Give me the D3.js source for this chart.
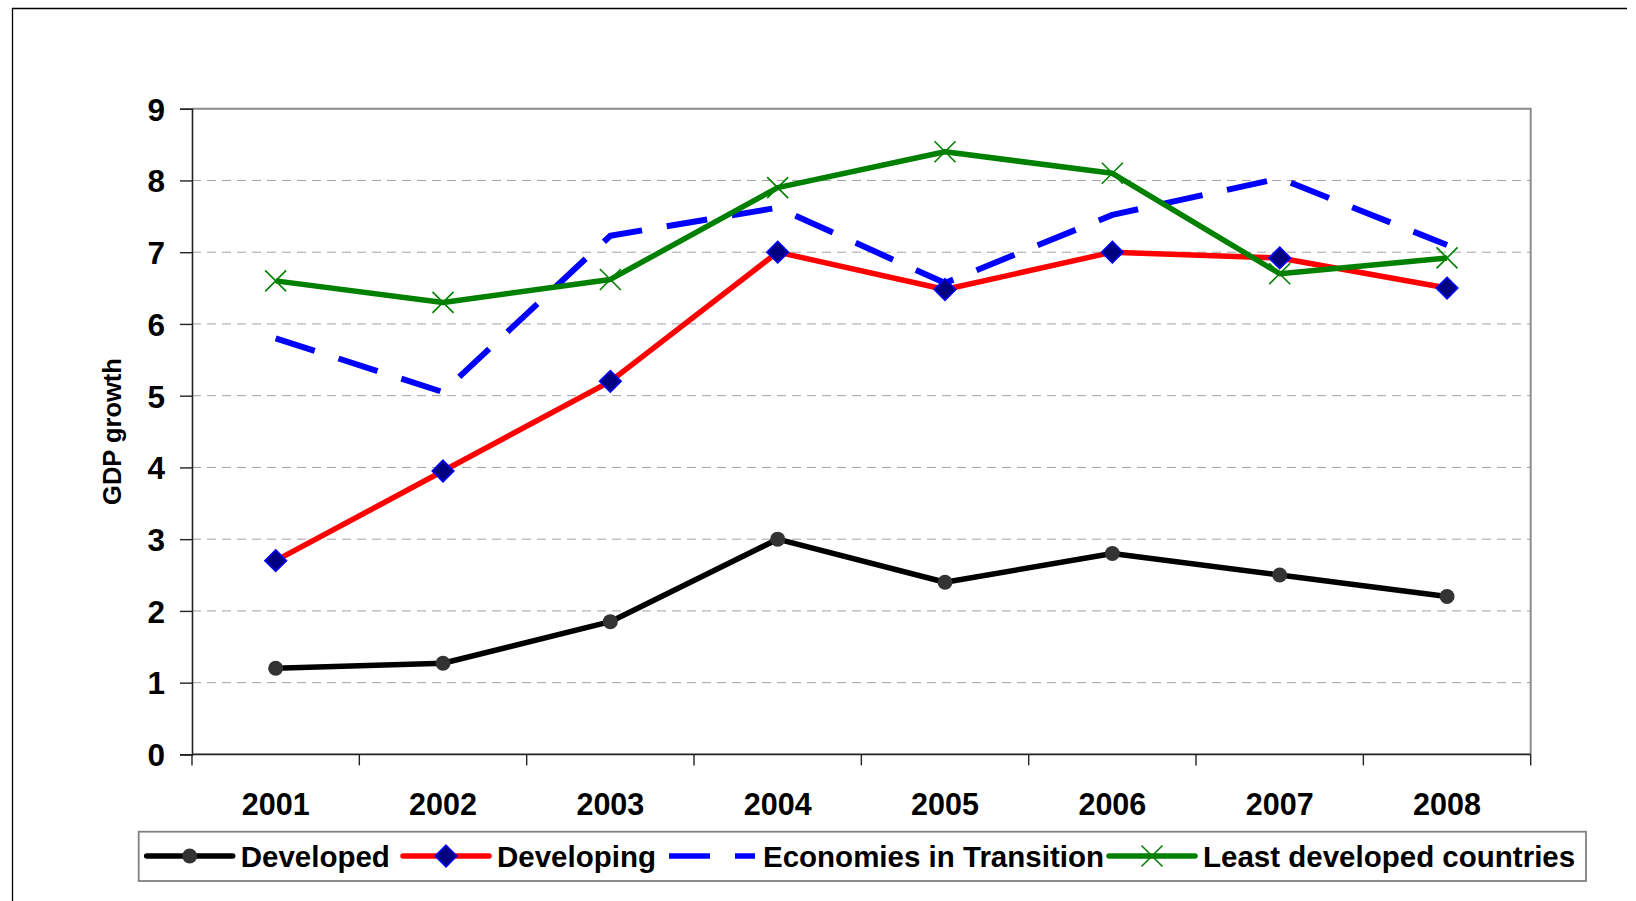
<!DOCTYPE html>
<html>
<head>
<meta charset="utf-8">
<script src="https://cdn.jsdelivr.net/npm/d3@7"></script>
<style>
  html, body { margin: 0; padding: 0; background: #fff; }
  svg { display: block; }
  text { font-family: "Liberation Sans", Arial, sans-serif; font-weight: bold; fill: #000; }
</style>
</head>
<body>
<script>
// ---- data ----
const years = ["2001", "2002", "2003", "2004", "2005", "2006", "2007", "2008"];
const developed  = [1.2, 1.27, 1.85, 3.0, 2.4, 2.8, 2.5, 2.2];
const developing = [2.7, 3.95, 5.2, 7.0, 6.48, 7.0, 6.92, 6.5];
const transition = [5.8, 5.05, 7.23, 7.62, 6.57, 7.52, 8.03, 7.1];
const leastDev   = [6.6, 6.3, 6.62, 7.9, 8.4, 8.1, 6.7, 6.92];
const seriesNames = ["Developed", "Developing", "Economies in Transition", "Least developed countries"];
const yTicks = [0, 1, 2, 3, 4, 5, 6, 7, 8, 9];
const yTitle = "GDP growth";

// ---- layout ----
const W = 1636, H = 901;
const L = 192, R = 1530.7, T = 108.7, B = 754.4;

const svg = d3.select("body").append("svg").attr("width", W).attr("height", H);

// outer frame (left + top only visible)
svg.append("path").attr("d", `M12.5,${H} V8.5 H1627`).attr("fill", "none")
  .attr("stroke", "#000").attr("stroke-width", 1.3);

const x = d3.scaleBand().domain(years).range([L, R]).padding(0);
const y = d3.scaleLinear().domain([0, 9]).range([B, T]);
const cx = d => x(d) + x.bandwidth() / 2;

// gridlines
svg.append("g").selectAll("line").data(yTicks.filter(v => v > 0 && v < 9)).join("line")
  .attr("x1", L).attr("x2", R).attr("y1", d => y(d)).attr("y2", d => y(d))
  .attr("stroke", "#a0a0a0").attr("stroke-width", 1).attr("stroke-dasharray", "9,6");

// plot border top/right (gray)
svg.append("path").attr("d", `M${L},${y(9)} H${R} V${B}`).attr("fill", "none")
  .attr("stroke", "#8c8c8c").attr("stroke-width", 2);

// y axis
const yAxis = d3.axisLeft(y).tickValues(yTicks).tickSize(12).tickPadding(0).tickFormat(d3.format("d"));
const gy = svg.append("g").attr("transform", `translate(${L},0)`).call(yAxis);
gy.select(".domain").attr("stroke", "#222").attr("stroke-width", 1.6);
gy.selectAll(".tick line").attr("stroke", "#222").attr("stroke-width", 1.4);
gy.selectAll(".tick text").attr("x", -27).attr("dy", "0.36em")
  .attr("font-size", 31.5).attr("font-family", null).attr("fill", "#000").attr("text-anchor", "end");

// x axis (labels)
const xAxis = d3.axisBottom(x).tickSize(0).tickPadding(0);
const gx = svg.append("g").attr("transform", `translate(0,${B})`).call(xAxis);
gx.select(".domain").attr("stroke", "#222").attr("stroke-width", 1.6).attr("d", `M${L},0H${R}`);
gx.selectAll(".tick text").attr("y", 50).attr("dy", "0.36em")
  .attr("font-size", 30.5).attr("font-family", null).attr("fill", "#000");
// boundary ticks
const bounds = years.map(d => x(d)).concat([R]);
gx.append("g").selectAll("line").data(bounds).join("line")
  .attr("x1", d => d).attr("x2", d => d).attr("y1", 0).attr("y2", 11)
  .attr("stroke", "#222").attr("stroke-width", 1.4);

// y title
svg.append("text").attr("transform", `translate(121,431.5) rotate(-90)`)
  .attr("text-anchor", "middle").attr("font-size", 25.5).text(yTitle);

// ---- series ----
const series = [
  { name: seriesNames[0], values: developed,  color: "#000000", width: 5.5, dash: null, marker: "circle" },
  { name: seriesNames[1], values: developing, color: "#ff0000", width: 5.5, dash: null, marker: "diamond" },
  { name: seriesNames[2], values: transition, color: "#0000ff", width: 6, dash: "41,25", marker: null },
  { name: seriesNames[3], values: leastDev,   color: "#008000", width: 5.5, dash: null, marker: "x" }
];

const line = d3.line().x((d, i) => cx(years[i])).y(d => y(d));

const gLines = svg.append("g");
series.forEach(s => {
  gLines.append("path").attr("d", line(s.values)).attr("fill", "none")
    .attr("stroke", s.color).attr("stroke-width", s.width)
    .attr("stroke-linejoin", "round")
    .attr("stroke-dasharray", s.dash);
});

function drawMarker(g, type, px, py) {
  if (type === "circle") {
    g.append("circle").attr("cx", px).attr("cy", py).attr("r", 7.5).attr("fill", "#333333");
  } else if (type === "diamond") {
    const r = 10.8;
    g.append("path").attr("d", `M${px},${py - r}L${px + r},${py}L${px},${py + r}L${px - r},${py}Z`)
      .attr("fill", "#000080").attr("stroke", "#0000ff").attr("stroke-width", 1.6);
  } else if (type === "x") {
    const r = 10.5;
    g.append("path").attr("d", `M${px - r},${py - r}L${px + r},${py + r}M${px - r},${py + r}L${px + r},${py - r}`)
      .attr("stroke", "#008000").attr("stroke-width", 1.6).attr("fill", "none");
  }
}

const gMarks = svg.append("g");
series.forEach(s => {
  if (!s.marker) return;
  s.values.forEach((v, i) => drawMarker(gMarks, s.marker, cx(years[i]), y(v)));
});

// ---- legend ----
const lg = svg.append("g");
lg.append("rect").attr("x", 138.7).attr("y", 831.7).attr("width", 1586 - 138.7).attr("height", 881 - 831.7)
  .attr("fill", "#fff").attr("stroke", "#808080").attr("stroke-width", 1.8);
const legendStarts = [146.7, 403, 669, 1109];
const legendY = 856;
series.forEach((s, i) => {
  const x0 = legendStarts[i];
  const lineLen = 86;
  lg.append("line").attr("x1", x0).attr("x2", x0 + lineLen).attr("y1", legendY).attr("y2", legendY)
    .attr("stroke", s.color).attr("stroke-width", 5.5)
    .attr("stroke-linecap", s.dash ? "butt" : "round")
    .attr("stroke-dasharray", s.dash);
  if (s.marker) drawMarker(lg, s.marker, x0 + lineLen / 2, legendY);
  lg.append("text").attr("x", x0 + lineLen + 8).attr("y", legendY).attr("dy", "0.36em")
    .attr("font-size", 29.5).text(s.name);
});
</script>
</body>
</html>
